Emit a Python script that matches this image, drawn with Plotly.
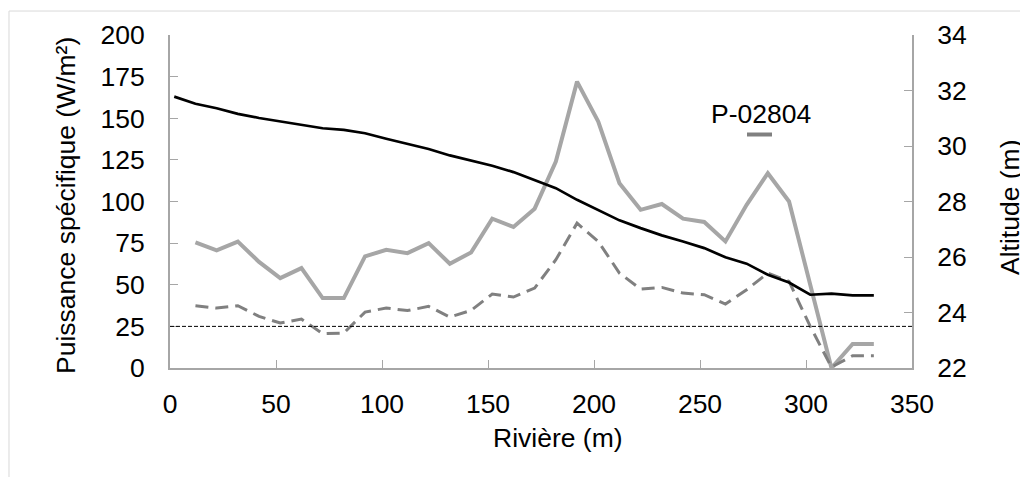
import plotly.graph_objects as go

# ---- data ----
river_x = [12, 22, 32, 42, 52, 62, 72, 82, 92, 102, 112, 122, 132, 142, 152, 162,
           172, 182, 192, 202, 212, 222, 232, 242, 252, 262, 272, 282, 292, 302,
           312, 322, 332]
power_solid = [75.4, 70.6, 75.9, 63.7, 54, 60, 42, 42, 67, 71, 69, 75, 62.6, 69.4,
               89.7, 84.7, 95.7, 124, 172, 148, 111, 95, 98.5, 89.7, 87.7, 76, 98,
               117, 100, 50, 0, 14.4, 14.4]
power_dashed = [37.4, 36, 37.4, 31, 27, 29.4, 20.6, 21, 33.6, 36, 34.5, 37, 30.6,
                34.6, 44.4, 42.6, 48, 65, 87, 76, 57, 47.4, 48.4, 45, 44, 38.4, 47,
                57, 52, 25, 0.5, 7.4, 7.4]
alt_x = [2, 12, 22, 32, 42, 52, 62, 72, 82, 92, 102, 112, 122, 132, 142, 152, 162,
         172, 182, 192, 202, 212, 222, 232, 242, 252, 262, 272, 282, 292, 302,
         312, 322, 332]
altitude = [31.78, 31.52, 31.36, 31.16, 31.01, 30.88, 30.76, 30.64, 30.58, 30.46,
            30.26, 30.08, 29.89, 29.66, 29.48, 29.29, 29.06, 28.78, 28.48, 28.06,
            27.68, 27.32, 27.04, 26.78, 26.56, 26.32, 25.99, 25.76, 25.36, 25.08,
            24.64, 24.68, 24.62, 24.62]
threshold = 25
legend_label = "P-02804"
x_title = "Rivière (m)"
y_title = "Puissance spécifique (W/m²)"
y2_title = "Altitude (m)"

FONT = "Liberation Sans, Arial, sans-serif"
FS = 26.5
AXIS_GRAY = "#a6a6a6"

fig = go.Figure()
fig.add_trace(go.Scatter(x=river_x, y=power_solid, mode="lines",
                         line=dict(color="#a6a6a6", width=4), showlegend=False))
fig.add_trace(go.Scatter(x=river_x, y=power_dashed, mode="lines",
                         line=dict(color="#808080", width=3, dash="13px,7px"),
                         showlegend=False))
fig.add_trace(go.Scatter(x=alt_x, y=altitude, mode="lines", yaxis="y2",
                         line=dict(color="#000000", width=2.7), showlegend=False))

fig.add_hline(y=threshold, line=dict(color="#000000", width=1, dash="4px,2px"))

axis_common = dict(
    showgrid=False, zeroline=False, showline=True, linecolor=AXIS_GRAY,
    linewidth=2, ticks="inside", ticklen=8, tickcolor=AXIS_GRAY, tickwidth=1,
    tickfont=dict(family=FONT, size=FS, color="#000000"),
)

# the page body adds an 8px offset; the figure is sized to compensate
fig.update_layout(
    width=1020, height=469,
    margin=dict(l=162, r=116, t=27, b=109),
    paper_bgcolor="white", plot_bgcolor="white",
    font=dict(family=FONT, size=FS, color="#000000"),
    xaxis=dict(range=[0, 350], tickvals=[0, 50, 100, 150, 200, 250, 300, 350],
               ticklabelstandoff=11, **axis_common),
    yaxis=dict(range=[0, 200], tickvals=[0, 25, 50, 75, 100, 125, 150, 175, 200],
               ticklabelstandoff=18, **axis_common),
    yaxis2=dict(range=[22, 34], tickvals=[22, 24, 26, 28, 30, 32, 34],
                overlaying="y", side="right", ticklabelstandoff=18, **axis_common),
    showlegend=False,
)

annots = [
    dict(text=y_title, x=-0.1402, y=0.4895, textangle=-90),
    dict(text=y2_title, x=1.1321, y=0.4805, textangle=-90),
    dict(text=x_title, x=0.5229, y=-0.2102),
    dict(text=legend_label, x=0.7965, y=0.762),
]
for a in annots:
    fig.add_annotation(xref="paper", yref="paper", showarrow=False,
                       xanchor="center", yanchor="middle",
                       font=dict(family=FONT, size=FS, color="#000000"), **a)

# legend sample line under the label
fig.add_shape(type="line", xref="paper", yref="paper", x0=0.7776, x1=0.8113,
              y0=0.7012, y1=0.7012, line=dict(color="#808080", width=4))
# outer chart border
fig.add_shape(type="rect", xref="paper", yref="paper", x0=-0.2170, x1=1.2,
              y0=-0.4, y1=1.072, line=dict(color="#d9d9d9", width=1), layer="below")

fig.write_html("out.html")
